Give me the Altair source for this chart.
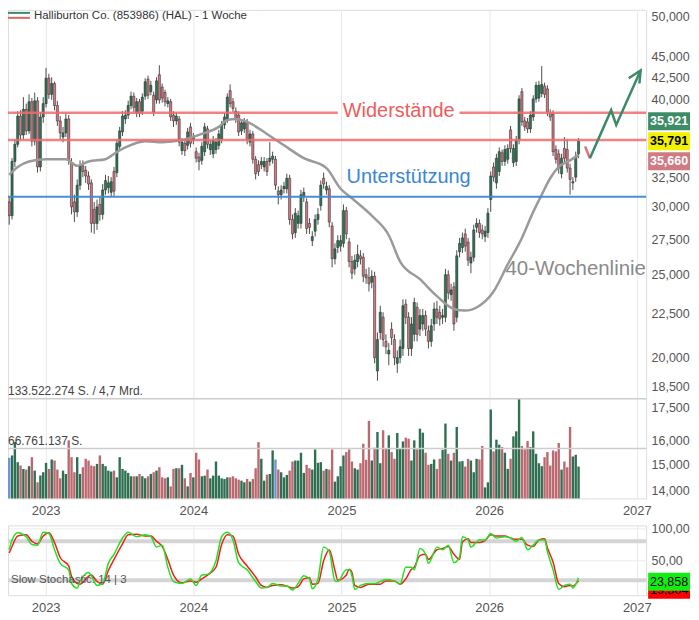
import altair as alt
import pandas as pd

FONT = "Liberation Sans"
START = "2022-10-03"
TITLE = "Halliburton Co. (853986) (HAL) - 1 Woche"

# weekly candles (USD)
opens = [30.4,29.3,33.9,35.5,38.3,36.4,39.0,36.8,39.8,35.8,39.9,33.4,38.2,39.6,42.4,40.6,41.8,39.4,37.8,36.2,
         36.6,38.0,33.8,30.4,29.6,31.8,33.5,33.1,32.6,32.0,29.8,28.7,30.2,29.4,31.4,31.6,31.2,33.0,32.9,35.3,
         36.7,38.0,38.4,39.4,40.4,38.6,39.8,38.8,40.4,42.3,40.9,40.5,40.0,42.8,41.4,40.8,39.6,39.8,38.4,37.8,
         38.0,34.9,35.6,35.4,37.2,35.9,34.8,34.3,34.0,34.8,37.0,35.0,34.6,35.0,35.4,36.0,37.4,38.0,41.0,39.8,
         38.8,38.4,36.8,37.0,37.7,35.7,36.5,34.1,33.6,33.6,33.4,33.9,33.9,34.1,34.1,31.3,31.0,31.5,31.5,32.4,
         29.0,28.0,28.7,28.7,30.8,30.4,28.7,27.4,28.1,29.0,30.1,32.4,31.4,31.5,28.5,26.1,26.9,27.0,27.2,29.7,
         27.3,25.9,25.4,25.9,26.3,26.2,25.0,24.8,24.5,24.9,19.3,21.4,22.3,20.9,20.2,21.6,21.0,19.7,20.0,20.5,
         23.1,22.3,20.5,21.3,22.9,21.6,21.9,22.4,21.5,20.9,21.9,22.8,22.6,22.3,22.3,25.0,23.7,24.2,22.3,26.6,
         26.9,27.9,27.3,25.8,26.2,28.4,28.7,28.2,27.7,28.0,30.6,33.4,32.0,33.0,34.7,33.9,34.1,36.9,33.8,33.9,
         35.9,40.9,37.8,37.7,37.0,38.2,40.1,40.2,40.7,41.5,41.2,38.6,38.5,35.0,34.6,32.8,35.1,35.0,33.3,32.0,
         32.5,34.6]
closes = [29.3,33.9,35.5,38.3,36.4,39.0,36.8,39.8,35.8,39.9,33.4,38.2,39.6,42.4,40.6,41.8,39.4,37.8,36.6,36.6,
          38.0,34.0,30.0,29.6,31.8,33.5,33.0,32.6,31.9,28.7,28.7,30.0,29.4,31.4,32.2,32.0,32.1,31.3,35.6,36.8,
          38.3,38.4,39.4,40.4,39.2,39.8,38.6,40.3,42.0,40.5,41.6,38.7,42.1,40.0,40.2,39.8,39.9,38.2,37.8,38.3,
          35.7,35.7,34.9,36.7,35.6,36.2,34.2,33.9,35.3,37.2,35.5,35.5,35.9,35.7,36.5,37.4,38.2,40.3,39.6,39.1,
          38.0,36.7,37.6,37.7,35.9,36.5,34.1,32.8,33.0,33.9,33.9,33.0,34.2,34.4,31.8,31.0,31.4,31.7,32.4,29.0,
          27.9,29.5,29.3,31.0,31.2,28.3,28.4,27.7,29.0,29.4,31.8,31.9,31.7,28.8,26.1,26.8,27.4,27.4,29.7,27.9,
          25.9,25.1,26.0,26.4,26.1,24.9,24.8,24.4,24.9,20.0,21.0,22.6,21.0,20.6,20.4,21.1,20.0,20.0,20.6,23.0,
          22.3,20.5,21.9,23.2,21.3,22.4,22.4,21.6,20.9,21.8,22.8,22.3,22.2,22.4,25.0,23.8,24.0,21.9,26.3,27.2,
          27.6,27.0,26.0,26.2,28.2,28.7,28.0,27.9,28.1,29.5,32.6,32.5,34.2,34.8,33.9,35.0,35.1,35.1,35.1,35.9,
          40.1,37.7,37.2,37.0,38.4,40.1,41.6,41.6,41.7,40.6,38.7,38.2,34.8,34.1,33.3,34.2,34.2,33.3,32.3,32.1,
          34.4,35.791]
highs = [30.9,34.2,36.0,38.8,38.9,40.3,39.6,40.6,40.2,40.8,40.3,38.7,40.3,43.6,42.9,42.5,42.0,39.9,38.3,37.2,
         38.6,38.4,34.2,31.0,32.3,34.0,34.0,33.5,33.0,32.3,30.4,30.6,30.8,31.9,32.7,32.6,32.5,33.4,36.0,37.2,
         38.8,38.9,39.9,40.9,40.8,40.2,40.1,40.7,42.4,42.7,42.1,40.9,42.5,43.9,41.8,41.1,40.3,40.1,38.8,38.7,
         38.3,36.1,35.9,37.1,37.6,36.6,35.2,34.7,35.7,37.6,37.3,35.9,36.3,36.1,36.9,37.8,38.6,40.7,41.7,40.2,
         39.2,38.8,38.0,38.1,38.0,36.9,36.8,34.4,34.0,34.3,34.3,34.2,35.7,34.8,34.4,31.7,31.8,32.1,32.8,32.7,
         29.4,29.9,29.7,31.4,31.6,30.7,29.1,28.1,29.4,29.9,32.2,32.9,32.1,31.8,28.8,27.2,27.8,27.8,30.2,30.0,
         27.6,26.3,26.4,27.1,26.7,26.5,25.4,25.5,25.3,25.2,21.4,23.0,22.6,21.3,20.8,22.0,21.3,20.4,21.0,23.4,
         23.4,22.6,22.3,23.5,23.2,22.8,22.8,22.7,21.8,22.2,23.2,23.3,23.0,22.8,25.4,25.3,24.4,24.5,26.7,27.6,
         28.0,28.3,27.6,26.6,28.6,29.1,29.0,28.6,28.5,29.9,33.0,33.8,34.6,35.2,35.0,35.4,35.5,37.3,35.5,36.3,
         40.5,41.3,38.2,38.1,38.8,40.5,42.0,42.1,43.8,41.9,41.6,39.0,38.9,35.4,35.0,34.6,36.2,36.0,33.7,32.5,
         34.8,36.1]
lows = [28.6,29.0,33.4,35.2,35.9,36.0,36.4,36.5,35.3,35.4,32.9,33.0,37.6,39.2,40.1,40.0,38.9,37.3,36.0,35.7,
        36.2,33.6,29.4,28.8,29.2,31.4,32.5,32.0,31.4,28.0,27.9,28.2,28.9,29.0,31.0,31.1,30.8,30.9,32.5,35.0,
        36.3,37.5,38.0,39.0,38.7,38.2,38.2,38.4,40.0,40.1,40.5,38.3,39.6,39.6,39.7,39.3,39.2,37.8,37.2,37.4,
        35.3,34.5,34.4,35.0,35.2,35.5,33.8,33.1,33.6,34.4,35.1,34.5,34.2,34.6,35.0,35.6,37.0,37.6,39.2,38.7,
        37.6,36.3,36.4,36.6,35.5,35.3,33.7,32.3,32.6,33.2,33.0,32.6,33.5,33.7,31.4,30.2,30.6,31.1,31.1,28.6,
        27.5,27.6,28.3,28.3,30.4,27.9,27.9,27.0,27.7,28.6,29.7,31.5,31.0,28.4,25.5,25.7,26.5,26.6,26.9,27.5,
        25.5,24.7,25.0,25.5,25.7,24.5,24.4,23.9,24.1,19.7,18.8,21.0,20.6,20.2,19.6,20.7,19.6,19.2,19.7,20.1,
        21.9,20.1,20.1,20.9,20.9,21.2,21.5,21.2,20.5,20.6,21.5,21.9,21.8,21.9,22.0,23.4,23.3,21.5,22.0,26.2,
        26.5,26.6,25.6,25.1,25.9,28.0,27.6,27.5,27.3,27.6,29.6,32.1,31.5,32.6,33.5,33.5,33.7,34.7,33.4,33.5,
        35.5,37.3,36.8,36.6,36.6,37.8,39.7,39.8,40.3,40.2,38.3,37.8,34.4,33.7,32.8,32.4,33.8,32.9,31.0,31.4,
        32.1,34.2]
# weekly volume, millions of shares
volumes = [54.4,57.6,75.5,48.6,44.1,39.6,38.7,43.2,55.3,37.3,21.6,30.6,35.1,47.7,39.6,52.2,50.8,38.7,27.0,37.3,
           32.8,77.8,55.3,35.1,55.3,32.8,41.8,53.1,50.8,44.1,43.2,46.3,57.6,46.3,43.2,37.3,36.0,37.3,28.3,55.3,
           39.6,37.3,34.2,29.7,29.7,29.7,32.8,29.7,27.0,29.7,32.8,35.1,37.3,41.8,28.3,27.0,28.3,16.2,39.6,40.5,
           40.5,45.0,27.0,16.2,34.2,28.3,61.2,52.2,29.7,30.6,38.7,27.0,30.6,49.5,30.6,27.0,26.1,28.3,28.3,29.7,
           27.0,25.2,23.8,21.6,26.1,22.5,26.1,40.5,75.5,53.1,23.8,31.9,32.8,64.3,52.2,38.7,35.1,28.3,31.5,37.3,
           49.5,50.8,50.8,61.2,34.2,45.0,40.5,38.7,65.7,47.7,48.6,37.3,39.6,38.7,65.7,22.5,29.7,43.2,57.6,62.1,
           65.7,49.5,40.5,38.7,47.2,73.3,51.7,103.9,50.8,67.9,89.0,47.2,91.3,67.5,84.5,62.1,53.1,87.7,66.6,76.4,
           81.4,80.0,50.8,77.8,65.7,93.5,88.1,61.2,45.0,46.3,52.2,39.6,53.1,65.2,100.3,59.8,50.8,61.2,95.8,49.5,
           50.0,42.7,53.1,50.8,35.1,53.1,52.2,70.2,14.8,21.6,119.2,63.0,78.7,72.0,68.8,61.2,39.6,53.1,83.2,89.9,
           134.0,70.2,65.7,76.9,68.8,89.9,59.8,47.2,43.2,55.3,62.1,44.1,64.3,63.0,74.2,38.7,49.5,41.8,95.8,56.2,
           58.5,42.7]
blue_weeks = [0, 94]

# 40-week line (week index, USD)
ma_weeks = [0,3,7,13,20,24,28,34,37,41,48,54,61,68,74,77,80,84,91,97,104,112,117,121,128,134,138,145,151,157,
            161,166,171,176,181,185,188,191,194,198,201]
ma_values = [32.7,33.4,33.9,34.1,34.1,33.5,33.9,34.1,34.6,35.2,35.8,35.7,35.9,36.5,37.2,37.9,38.0,37.7,36.5,35.4,
             34.2,33.3,31.5,30.7,29.3,27.8,25.9,24.7,23.6,22.8,22.7,23.0,23.9,25.7,27.6,29.6,31.0,32.4,33.4,34.0,34.5]

# slow stochastic 14|3 (week index, %K, %D)
stoch_weeks = [0,1,3,6,8,10,12,14,16,18,21,22,24,25,28,29,31,33,35,37,40,42,45,48,50,52,54,56,58,61,
               64,66,68,70,73,75,77,79,81,84,87,89,91,93,96,98,100,102,104,106,107,109,111,113,115,116,119,
               120,121,122,124,127,129,131,133,136,138,140,142,143,145,147,148,151,153,155,157,159,160,162,163,
               166,168,170,172,175,177,179,181,183,185,187,189,190,192,194,196,198,199,201]
stoch_k = [67,82,93,87,75,74,94,92,67,46,36,15,8,18,32,27,12,15,46,60,85,94,87,90,87,71,74,40,18,15,
           22,12,28,29,50,87,94,82,47,36,18,8,9,15,11,11,5,15,27,22,7,22,71,64,19,18,36,
           36,27,6,12,15,15,18,21,19,14,40,40,36,69,60,46,71,67,74,47,56,87,82,71,
           82,82,92,85,87,85,80,86,67,74,82,82,64,36,6,12,14,8,23.858]
stoch_d = [62,72,88,90,80,76,88,93,78,55,42,26,15,14,26,28,18,14,35,52,76,90,91,88,88,80,72,52,28,16,
           19,17,22,28,40,75,90,88,60,42,25,12,9,12,13,11,8,10,22,24,14,15,50,67,35,20,28,
           37,32,12,9,14,14,14,19,19,14,22,37,40,58,60,52,67,69,72,60,52,79,84,78,
           78,81,90,88,88,85,83,83,74,72,82,84,70,48,15,10,12,11,19.304]

# levels and labels
resist_upper = 38.64
resist_lower = 35.92
support = 30.83
quote_values = [35.921, 35.791, 35.660]
quote_labels = ["35,921", "35,791", "35,660"]
stoch_values = [23.858, 19.304]
stoch_labels = ["23,858", "19,304"]
vol_levels = [133.522274, 66.761137]
vol_labels = ["133.522.274 S. / 4,7 Mrd.", "66.761.137 S."]
year_ticks = [2023, 2024, 2025, 2026, 2027]
price_ticks = [14, 15, 16, 17.5, 18.5, 20, 22.5, 25, 27.5, 30, 32.5, 40, 42.5, 45, 50]

# drawn forecast arrows (week index, USD)
arrow_red_w = [203.3, 205.0]
arrow_red_p = [35.3, 34.2]
arrow_green_w = [205.0, 212.5, 214.3, 222.9]
arrow_green_p = [34.2, 38.9, 37.4, 43.3]
arrow_head_w = [218.7, 222.9, 222.5]
arrow_head_p = [42.4, 43.3, 41.8]

# ---------------------------------------------------------------
W, H_P, H_S = 640, 490, 70
GREEN_C, RED_C = "#2d7656", "#cf7782"
VGREEN, VRED, VBLUE = "#2f6f52", "#bb6971", "#6f93d8"

t0 = pd.Timestamp(START)
def wdate(w):
    return t0 + pd.Timedelta(days=7 * w)

n = len(closes)
df = pd.DataFrame({
    "date": [wdate(i) for i in range(n)],
    "open": opens, "high": highs, "low": lows, "close": closes, "vol": volumes,
})
df["cc"] = [GREEN_C if c >= o else RED_C for o, c in zip(opens, closes)]
df["vc"] = [VBLUE if i in blue_weeks else (VGREEN if c >= o else VRED)
            for i, (o, c) in enumerate(zip(opens, closes))]

xs = alt.Scale(domain=[alt.DateTime(year=2022, month=9, date=30),
                       alt.DateTime(year=2027, month=1, date=24)], padding=0)
xaxis = alt.Axis(values=[alt.DateTime(year=y, month=1, date=1) for y in year_ticks],
                 format="%Y", title=None, domain=False, ticks=False, labelFontSize=13,
                 labelColor="#555", labelPadding=6, gridColor="#e8e8e8", labelFont=FONT,
                 labelFlush=False)

def X(field="date"):
    return alt.X(f"{field}:T", scale=xs, axis=xaxis)

ys = alt.Scale(type="log", domain=[13.70, 50.95], nice=False, zero=False)
yaxis = alt.Axis(orient="right", values=price_ticks, title=None, domain=False, ticks=False,
                 labelExpr="replace(format(datum.value, '.3f'), '.', ',')",
                 labelFontSize=12.5, labelColor="#555", labelPadding=5, gridColor="#ececec",
                 labelOverlap=False, labelFont=FONT)

def Yp(field):
    return alt.Y(f"{field}:Q", scale=ys, axis=yaxis)

vs = alt.Scale(domain=[0, 654.3], nice=False, zero=True)

# --- volume group
vbars = alt.Chart(df).mark_bar(size=2.4).encode(
    x=X(), y=alt.Y("vol:Q", scale=vs, axis=None), color=alt.Color("vc:N", scale=None))
vdf = pd.DataFrame({"v": vol_levels, "t": vol_labels})
vrules = alt.Chart(vdf).mark_rule(color="#cdcdcd", strokeWidth=1.5).encode(
    y=alt.Y("v:Q", scale=vs, axis=None))
vtext = alt.Chart(vdf).mark_text(align="left", baseline="bottom", dy=-1, fontSize=12,
                                 color="#444", font=FONT).encode(
    x=alt.value(0), y=alt.Y("v:Q", scale=vs, axis=None), text="t:N")
vol_group = alt.layer(vbars, vrules, vtext)

# --- price group
wicks = alt.Chart(df).mark_rule(color="#222", strokeWidth=0.8).encode(
    x=X(), y=Yp("low"), y2="high:Q")
bodies = alt.Chart(df).mark_bar(size=2.2, stroke="#222", strokeWidth=0.5).encode(
    x=X(), y=Yp("open"), y2="close:Q", color=alt.Color("cc:N", scale=None))

madf = pd.DataFrame({"date": [wdate(w) for w in ma_weeks], "ma": ma_values})
maline = alt.Chart(madf).mark_line(color="#9a9a9a", strokeWidth=2.5, interpolate="monotone").encode(
    x=X(), y=Yp("ma"))

dom_end = pd.Timestamp("2027-01-24")
dom_start = pd.Timestamp("2022-09-30")
updf = pd.DataFrame({"a": [dom_start, wdate(159)], "b": [wdate(116), dom_end],
                     "p": [resist_upper, resist_upper]})
upline = alt.Chart(updf).mark_rule(color="#f06b6b", strokeWidth=2.5, opacity=0.85).encode(
    x=X("a"), x2="b:T", y=Yp("p"))
lowline = alt.Chart(pd.DataFrame({"p": [resist_lower]})).mark_rule(
    color="#f06b6b", strokeWidth=2.5, opacity=0.85).encode(y=Yp("p"))
supline = alt.Chart(pd.DataFrame({"p": [support]})).mark_rule(
    color="#3f88d4", strokeWidth=2, opacity=0.95).encode(y=Yp("p"))

def ann(w, p, txt, color, size):
    d = pd.DataFrame({"date": [wdate(w)], "p": [p], "t": [txt]})
    return alt.Chart(d).mark_text(fontSize=size, color=color, font=FONT, align="center",
                                  baseline="middle").encode(x=X(), y=Yp("p"), text="t:N")

t_res = ann(137.5, 38.85, "Widerstände", "#ee5c5c", 20)
t_sup = ann(141, 32.5, "Unterstützung", "#3a86d4", 20)
t_ma = ann(200, 25.4, "40-Wochenlinie", "#8a8a8a", 20.5)

arr_rows = []
for i, (w, p) in enumerate(zip(arrow_red_w, arrow_red_p)):
    arr_rows.append({"date": wdate(w), "p": p, "g": "r", "o": i, "c": "#e0707a"})
for i, (w, p) in enumerate(zip(arrow_green_w, arrow_green_p)):
    arr_rows.append({"date": wdate(w), "p": p, "g": "g", "o": i, "c": "#3a8a68"})
for i, (w, p) in enumerate(zip(arrow_head_w, arrow_head_p)):
    arr_rows.append({"date": wdate(w), "p": p, "g": "h", "o": i, "c": "#3a8a68"})
arrows = alt.Chart(pd.DataFrame(arr_rows)).mark_line(strokeWidth=2.5).encode(
    x=X(), y=Yp("p"), detail="g:N", order="o:Q", color=alt.Color("c:N", scale=None))

one = pd.DataFrame({"t": [TITLE]})
title = alt.Chart(one).mark_text(align="left", baseline="middle", fontSize=11.5, color="#333",
                                 font=FONT).encode(x=alt.value(26), y=alt.value(6), text="t:N")
leg_g = alt.Chart(one).mark_rule(color="#3a8a68", strokeWidth=2).encode(
    x=alt.value(0), x2=alt.value(22), y=alt.value(3))
leg_r = alt.Chart(one).mark_rule(color="#e06666", strokeWidth=2).encode(
    x=alt.value(0), x2=alt.value(22), y=alt.value(8))

BOX = "M-1,-0.43L1,-0.43L1,0.43L-1,0.43Z"

def box(value, label, yscale, off, fill, tcolor, xc, weight="bold"):
    d = pd.DataFrame({"v": [value], "t": [label]})
    b = alt.Chart(d).mark_point(shape=BOX, filled=True, size=1764, opacity=1, fill=fill,
                                strokeWidth=0, yOffset=off).encode(
        x=alt.value(xc), y=alt.Y("v:Q", scale=yscale[0], axis=yscale[1]))
    t = alt.Chart(d).mark_text(fontSize=12.5, fontWeight=weight, color=tcolor, font=FONT,
                               align="center", baseline="middle", dy=off).encode(
        x=alt.value(xc), y=alt.Y("v:Q", scale=yscale[0], axis=yscale[1]), text="t:N")
    return [b, t]

XC = W + 23
qboxes = []
qboxes += box(quote_values[1], quote_labels[0], (ys, yaxis), -20, "#3c8c66", "white", XC)
qboxes += box(quote_values[1], quote_labels[1], (ys, yaxis), 0, "#f2f200", "black", XC)
qboxes += box(quote_values[1], quote_labels[2], (ys, yaxis), 20, "#d07a82", "white", XC)

price_group = alt.layer(wicks, bodies, maline, upline, lowline, supline, t_res, t_sup, t_ma,
                        arrows, title, leg_g, leg_r, *qboxes)

price_chart = alt.layer(vol_group, price_group).resolve_scale(y="independent").properties(
    width=W, height=H_P)

# --- stochastic panel
ss = alt.Scale(domain=[-3, 104.5], nice=False, zero=False)
saxis = alt.Axis(orient="right", values=[50, 100], title=None, domain=False, ticks=False,
                 labelExpr="replace(format(datum.value, '.2f'), '.', ',')",
                 labelFontSize=12.5, labelColor="#555", labelPadding=5, gridColor="#ececec",
                 labelFont=FONT)
sdf = pd.DataFrame({"date": [wdate(w) for w in stoch_weeks], "k": stoch_k, "d": stoch_d})
srules = alt.Chart(pd.DataFrame({"lv": [80, 20]})).mark_rule(color="#d4d4d4", strokeWidth=4).encode(
    y=alt.Y("lv:Q", scale=ss, axis=saxis))
sd = alt.Chart(sdf).mark_line(color="#f02020", strokeWidth=1.5, interpolate="monotone").encode(
    x=X(), y=alt.Y("d:Q", scale=ss, axis=saxis))
sk = alt.Chart(sdf).mark_line(color="#22e222", strokeWidth=1.5, interpolate="monotone").encode(
    x=X(), y=alt.Y("k:Q", scale=ss, axis=saxis))
slabel = alt.Chart(pd.DataFrame({"lv": [20], "t": ["Slow Stochastic: 14 | 3"]})).mark_text(
    align="left", baseline="middle", fontSize=11.5, color="#555", font=FONT).encode(
    x=alt.value(3), y=alt.Y("lv:Q", scale=ss, axis=saxis), text="t:N")
sboxes = []
sboxes += box(stoch_values[0], stoch_labels[1], (ss, saxis), 12, "#ff0000", "black", XC, "normal")
sboxes += box(stoch_values[0], stoch_labels[0], (ss, saxis), 4, "#11ee11", "black", XC, "normal")

stoch_chart = alt.layer(srules, sd, sk, slabel, *sboxes).properties(width=W, height=H_S)

chart = alt.vconcat(price_chart, stoch_chart, spacing=3).properties(
    padding={"left": -5, "top": 0, "right": 0, "bottom": 0}).configure_view(
    stroke=None).configure(font=FONT)

chart.save("out.html", embed_options={"renderer": "svg", "actions": False})
